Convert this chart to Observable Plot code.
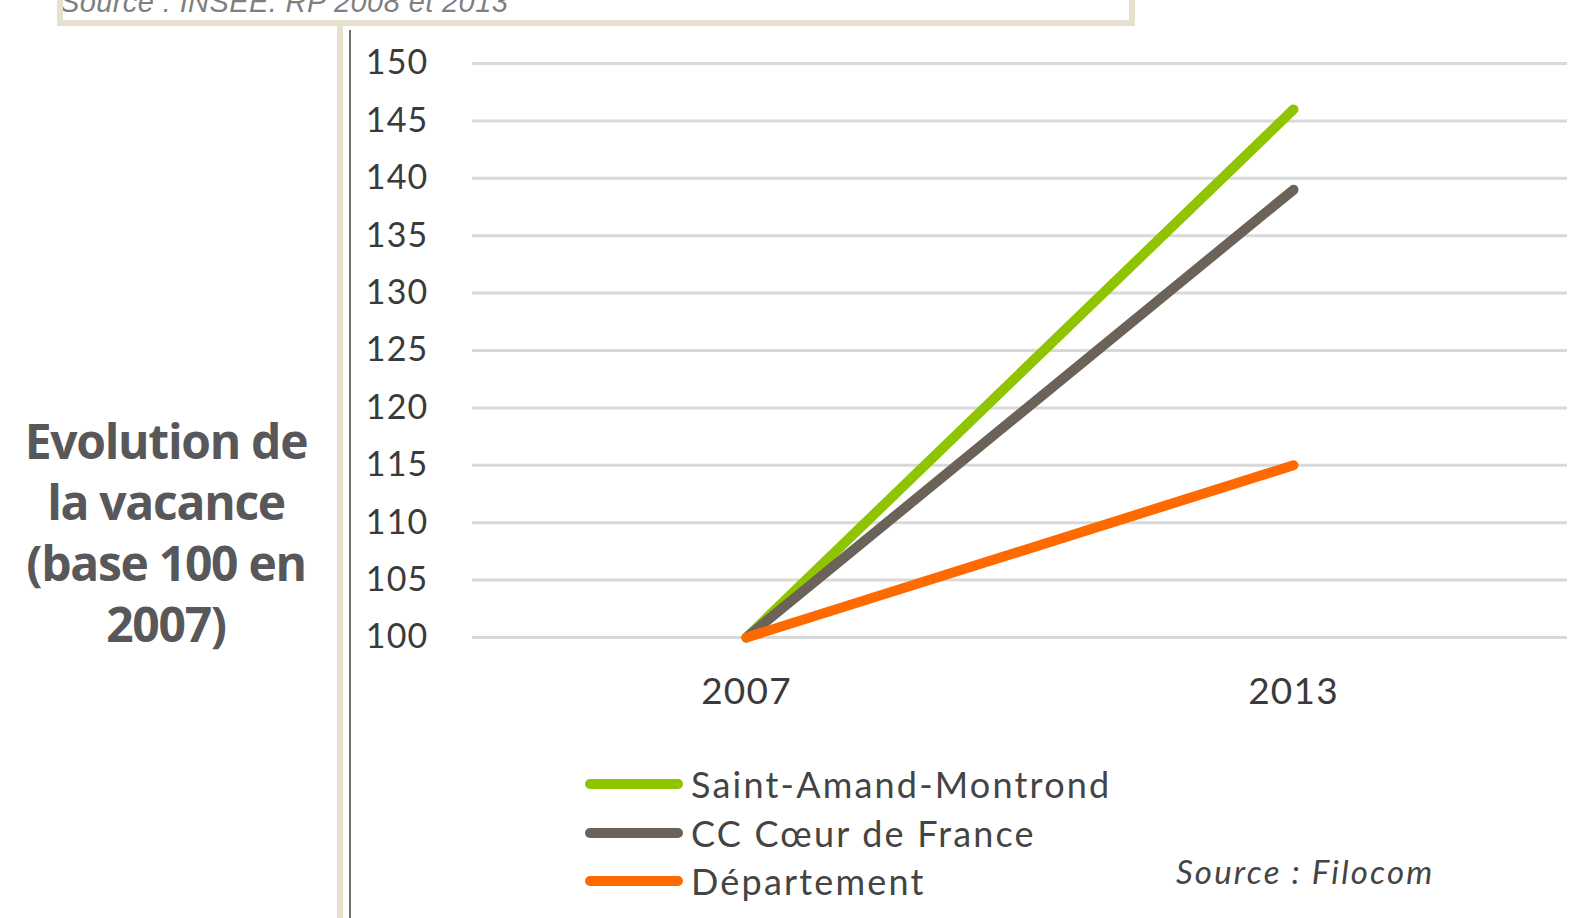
<!DOCTYPE html>
<html>
<head>
<meta charset="utf-8">
<script src="https://cdn.jsdelivr.net/npm/d3@7"></script>
<script src="https://cdn.jsdelivr.net/npm/@observablehq/plot@0.6"></script>
<style>
  html, body { margin: 0; padding: 0; background: #fff; }
  #wrap { position: relative; width: 1592px; height: 918px; overflow: hidden; }
  #topbox { position: absolute; left: 57px; top: -40px; width: 1066px; height: 60px;
            border: 6px solid #e5e1cd; border-top: none; background: #fff; overflow: hidden; }
  #topbox span { position: absolute; left: -3px; bottom: 1px; font-family: "Liberation Sans", sans-serif;
            font-style: italic; font-size: 29px; letter-spacing: 0.4px; color: #7f7f7f; white-space: nowrap; }
  #vbar { position: absolute; left: 337px; top: 26px; width: 6px; height: 900px; background: #e5e1cd; }
  #vline { position: absolute; left: 349px; top: 30px; width: 2px; height: 900px; background: #707070; }
  #title { position: absolute; left: 6px; top: 410px; width: 320px; text-align: center;
           font-family: "Open Sans", sans-serif; font-weight: 700; font-size: 48px; line-height: 61px;
           color: #58585a; letter-spacing: -1.3px; }
  #legend { position: absolute; left: 585px; top: 760px; font-family: Lato, sans-serif; font-size: 36px;
            letter-spacing: 2.2px; color: #444; }
  #legend .row { display: flex; align-items: center; height: 48.5px; }
  #legend svg { margin-right: 8px; }
  #source { position: absolute; left: 1176px; top: 851px; font-family: Lato, sans-serif; font-style: italic;
            font-size: 33px; letter-spacing: 2.2px; color: #444; }
  #chart { position: absolute; left: 0; top: 0; }
</style>
</head>
<body>
<div id="wrap">
  <div id="chart"></div>
  <div id="topbox"><span>Source : INSEE. RP 2008 et 2013</span></div>
  <div id="vbar"></div>
  <div id="vline"></div>
  <div id="title">Evolution de<br>la vacance<br>(base 100 en<br>2007)</div>
  <div id="legend"></div>
  <div id="source">Source : Filocom</div>
</div>
<script>
const years = ["2007", "2013"];
const seriesNames = ["Saint-Amand-Montrond", "CC Cœur de France", "Département"];
const values2007 = [100, 100, 100];
const values2013 = [146, 139, 115];
const seriesColors = ["#8fc400", "#6b6259", "#ff6a00"];
const yTicks = [100, 105, 110, 115, 120, 125, 130, 135, 140, 145, 150];

const data = [];
seriesNames.forEach((s, i) => {
  data.push({series: s, year: years[0], value: values2007[i]});
  data.push({series: s, year: years[1], value: values2013[i]});
});

const chart = Plot.plot({
  width: 1592,
  height: 918,
  marginLeft: 472,
  marginRight: 25,
  marginTop: 63,
  marginBottom: 281,
  style: {fontFamily: "Lato, sans-serif", fontSize: "34px", color: "#3a3a3a", background: "transparent", letterSpacing: "1.2px"},
  x: {type: "point", domain: years, padding: 0.5, label: null},
  y: {domain: [100, 150], label: null},
  color: {domain: seriesNames, range: seriesColors},
  marks: [
    Plot.ruleY(yTicks, {stroke: "#d9d9d9", strokeWidth: 3}),
    Plot.axisY({ticks: yTicks, tickSize: 0, tickPadding: 44, fontSize: 34, label: null, fill: "#3a3a3a"}),
    Plot.axisX({tickSize: 0, tickPadding: 40, fontSize: 37, label: null, fill: "#3a3a3a"}),
    Plot.line(data, {x: "year", y: "value", z: "series", stroke: "series", strokeWidth: 10, strokeLinecap: "round"})
  ]
});
document.getElementById("chart").appendChild(chart);

const legend = document.getElementById("legend");
seriesNames.forEach((s, i) => {
  const row = document.createElement("div");
  row.className = "row";
  row.innerHTML = `<svg width="98" height="12"><line x1="5" y1="6" x2="93" y2="6" stroke="${seriesColors[i]}" stroke-width="10" stroke-linecap="round"/></svg><span>${s}</span>`;
  legend.appendChild(row);
});
</script>
</body>
</html>
